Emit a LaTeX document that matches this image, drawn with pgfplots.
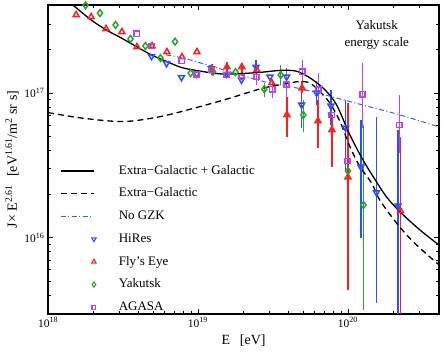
\documentclass[border=0pt]{standalone}
\usepackage{fontspec}
\setmainfont{Liberation Serif}
\usepackage{pgfplots}
\pgfplotsset{compat=1.18}
\usetikzlibrary{calc}
\definecolor{hires}{RGB}{40,80,255}
\definecolor{flyred}{RGB}{255,30,30}
\definecolor{yak}{RGB}{40,165,40}
\definecolor{agasa}{RGB}{185,70,235}
\definecolor{nogzk}{RGB}{50,100,240}
\newcommand{\eb}[4]{\addplot[#1, line width=1.5pt, forget plot] coordinates {(#2,#3) (#2,#4)};}
\begin{document}
\begin{tikzpicture}
\begin{axis}[
  xmode=log, ymode=log, log basis x=10, log basis y=10,
  scale only axis, width=391pt, height=309pt,
  xmin=1e18, xmax=4.05e20, ymin=2.97e15, ymax=4.05e17,
  axis line style={line width=1.1pt},
  tick style={line width=0.6pt, black},
  major tick length=5pt, minor tick length=2.8pt,
  xticklabel={10\textsuperscript{\pgfmathtruncatemacro\e{round(\tick)}\e}},
  yticklabel={10\textsuperscript{\pgfmathtruncatemacro\e{round(\tick)}\e}},
  tick label style={font=\fontsize{11.5}{13}\selectfont},
  xlabel={E\hspace{0.7em}[eV]},
  ylabel={J× E\textsuperscript{2.61}\hspace{0.6em}[eV\textsuperscript{1.61}/m\textsuperscript{2} sr s]},
  label style={font=\fontsize{14}{16}\selectfont},
  x label style={at={(axis description cs:0.5,-0.087)}, anchor=center},
  y label style={at={(axis description cs:-0.092,0.5)}, anchor=center},
  legend cell align=left,
  legend image code/.code={\draw[mark repeat=2,mark phase=2,#1] plot coordinates {(0pt,0pt) (33pt,0pt)}; \path (55.7pt,0pt);},
  legend style={draw=none, fill=none, inner sep=0pt, at={(rel axis cs:0.0307,-0.0055)}, anchor=south west,
    font=\fontsize{13}{15}\selectfont, row sep=6.2pt,
    nodes={text height=9.5pt, text depth=3pt}},
]
% error bars
\eb{hires}{2.44e19}{1.37e17}{1.68e17}
\eb{hires}{3.9e19}{1.05e17}{1.49e17}
\eb{hires}{4.91e19}{5.73e16}{1.14e17}
\eb{hires}{6.18e19}{8.27e16}{1.2e17}
\eb{hires}{7.7e19}{6.0e16}{1.05e17}
\eb{hires}{9.65e19}{2.94e16}{8.95e16}
\eb{hires}{1.22e20}{1.0e16}{6.5e16}
\eb{hires}{1.55e20}{3.54e15}{6.85e16}
\eb{hires}{2.16e20}{1e15}{5.55e16}
\eb{yak}{2.77e19}{9.4e16}{1.17e17}
\eb{yak}{3.56e19}{1.14e17}{1.56e17}
\eb{yak}{5.04e19}{5.4e16}{8.95e16}
\eb{yak}{1.0e20}{1.04e16}{6.8e16}
\eb{yak}{1.27e20}{3.16e15}{6.0e16}
\eb{agasa}{2.46e19}{1.14e17}{1.49e17}
\eb{agasa}{3.13e19}{9.2e16}{1.23e17}
\eb{agasa}{3.9e19}{8.95e16}{1.44e17}
\eb{agasa}{4.96e19}{1.08e17}{1.69e17}
\eb{agasa}{6.34e19}{8.27e16}{1.37e17}
\eb{agasa}{7.79e19}{4.58e16}{8.5e16}
\eb{agasa}{9.95e19}{1.17e16}{5.55e16}
\eb{agasa}{1.25e20}{5.73e16}{1.61e17}
\eb{agasa}{2.2e20}{3.85e16}{9.7e16}
\eb{flyred}{1.24e19}{1.32e17}{1.58e17}
\eb{flyred}{1.56e19}{1.38e17}{1.63e17}
\eb{flyred}{1.96e19}{1.36e17}{1.62e17}
\eb{flyred}{3.92e19}{4.97e16}{9.38e16}
\eb{flyred}{4.94e19}{1.0e17}{1.2e17}
\eb{flyred}{6.31e19}{4.17e16}{8.95e16}
\eb{flyred}{7.82e19}{3.08e16}{7.05e16}
\eb{flyred}{1.0e20}{4.36e15}{8.5e16}
\eb{flyred}{2.24e20}{1e15}{4.99e16}
% curves
\addplot[black, line width=1.3pt, smooth, forget plot] coordinates {
(1.46e18,4.06e17) (1.94e18,3.19e17) (2.45e18,2.72e17) (3.07e18,2.40e17)
(3.88e18,2.09e17) (4.89e18,1.83e17) (6.15e18,1.65e17) (7.74e18,1.50e17)
(9.7e18,1.43e17) (1.47e19,1.35e17) (2.46e19,1.38e17) (3.52e19,1.43e17)
(4.43e19,1.42e17) (5.17e19,1.33e17) (5.84e19,1.23e17) (7.03e19,1.05e17)
(8.4e19,8.27e16) (1.03e20,5.13e16) (1.26e20,3.44e16) (1.55e20,2.43e16)
(1.81e20,1.91e16) (2.22e20,1.51e16) (3.02e20,1.13e16) (4.04e20,8.9e15)};
\addplot[black, line width=1.3pt, smooth, dash pattern=on 6pt off 4pt, forget plot] coordinates {
(1.0e18,7.31e16) (1.72e18,6.68e16) (3.18e18,6.34e16) (5.58e18,6.85e16)
(1.03e19,8.04e16) (1.63e19,9.19e16) (2.72e19,1.08e17) (4.1e19,1.17e17)
(4.79e19,1.20e17) (5.58e19,1.17e17) (6.5e19,1.02e17) (7.59e19,8.49e16)
(8.85e19,6.34e16) (1.03e20,4.26e16) (1.2e20,3.10e16) (1.44e20,2.38e16)
(1.63e20,1.82e16) (2.11e20,1.26e16) (2.72e20,9.38e15) (3.7e20,7.02e15) (4.05e20,6.5e15)};
\addplot[nogzk, line width=1pt, smooth, dash pattern=on 5pt off 2.5pt on 1pt off 2.5pt, forget plot] coordinates {
(6.12e18,1.83e17) (8.85e18,1.69e17) (2.72e19,1.20e17) (5.0e19,1.06e17)
(1.03e20,8.71e16) (2.22e20,7.05e16) (4.05e20,5.82e16)};
% data
\addplot[only marks, hires, mark=triangle, mark size=3.4pt, mark options={rotate=180, line width=1.5pt}, forget plot] coordinates {
(4.9e18,1.79e17) (6.17e18,1.60e17) (7.76e18,1.28e17) (9.8e18,1.35e17)
(1.23e19,1.47e17) (1.55e19,1.35e17) (1.95e19,1.23e17) (2.44e19,1.51e17)
(3.02e19,1.29e17) (3.9e19,1.29e17) (4.91e19,8.27e16) (6.18e19,1.0e17)
(7.7e19,8.13e16) (9.65e19,5.73e16) (1.22e20,3.08e16) (1.55e20,2.05e16)
(2.16e20,1.66e16)};
\addplot[only marks, flyred, mark=triangle, mark size=3.4pt, mark options={line width=1.5pt}, forget plot] coordinates {
(1.54e18,3.46e17) (1.94e18,3.35e17) (2.44e18,2.77e17) (3.11e18,2.64e17)
(3.92e18,2.08e17) (4.94e18,2.11e17) (6.21e18,1.92e17) (7.82e18,1.77e17)
(9.84e18,1.92e17) (1.24e19,1.44e17) (1.56e19,1.51e17) (1.96e19,1.51e17)
(2.47e19,1.44e17) (3.11e19,1.17e17) (3.92e19,7.05e16) (4.94e19,1.08e17)
(6.31e19,6.40e16) (7.82e19,5.55e16) (1.0e20,2.62e16) (2.24e20,1.53e16)};
\addplot[only marks, yak, mark=diamond, mark size=3.4pt, mark options={line width=1.5pt}, forget plot] coordinates {
(1.78e18,4.03e17) (2.22e18,3.56e17) (2.82e18,2.95e17) (3.55e18,2.36e17)
(4.46e18,2.11e17) (5.62e18,1.74e17) (7.03e18,2.26e17) (8.93e18,1.37e17)
(1.26e19,1.40e17) (1.78e19,1.39e17) (2.77e19,1.06e17) (3.56e19,1.33e17)
(5.04e19,7.05e16) (1.0e20,2.89e16) (1.27e20,1.68e16)};
\addplot[only marks, agasa, mark=square, mark size=2.6pt, mark options={line width=1.5pt}, forget plot] coordinates {
(3.9e18,2.56e17) (4.91e18,2.11e17) (7.79e18,1.66e17) (9.8e18,1.34e17)
(1.23e19,1.44e17) (1.55e19,1.33e17) (1.95e19,1.29e17) (2.46e19,1.29e17)
(3.13e19,1.06e17) (3.9e19,1.14e17) (4.96e19,1.40e17) (6.34e19,1.05e17)
(7.79e19,7.05e16) (9.95e19,3.39e16) (1.25e20,9.8e16) (2.2e20,6.0e16)};
% legend
\addlegendimage{legend image code/.code={\draw[black, line width=1.4pt] (0pt,0pt) -- (33pt,0pt); \path (55.7pt,0pt);}}
\addlegendimage{legend image code/.code={\draw[black, line width=1.4pt, dash pattern=on 6pt off 4pt] (0pt,0pt) -- (33pt,0pt); \path (55.7pt,0pt);}}
\addlegendimage{legend image code/.code={\draw[nogzk, line width=1pt, dash pattern=on 5pt off 2.5pt on 1pt off 2.5pt] (0pt,0pt) -- (33pt,0pt); \path (55.7pt,0pt);}}
\addlegendimage{only marks, hires, mark=triangle, mark size=2.5pt, mark options={rotate=180, line width=1.1pt}}
\addlegendimage{only marks, flyred, mark=triangle, mark size=2.5pt, mark options={line width=1.1pt}}
\addlegendimage{only marks, yak, mark=diamond, mark size=2.5pt, mark options={line width=1.1pt}}
\addlegendimage{only marks, agasa, mark=square, mark size=1.9pt, mark options={line width=1.1pt}}
\legend{Extra−Galactic + Galactic, Extra−Galactic, No GZK, HiRes, Fly’s Eye, Yakutsk, AGASA}
\node[align=center, font=\fontsize{13}{17.4}\selectfont] at (rel axis cs:0.8407,0.903) {Yakutsk\\energy scale};
\end{axis}
\pgfresetboundingbox
\path[use as bounding box] ($(current axis.south west)+(-48pt,-42pt)$) rectangle ($(current axis.north east)+(4pt,5pt)$);
\end{tikzpicture}
\end{document}
